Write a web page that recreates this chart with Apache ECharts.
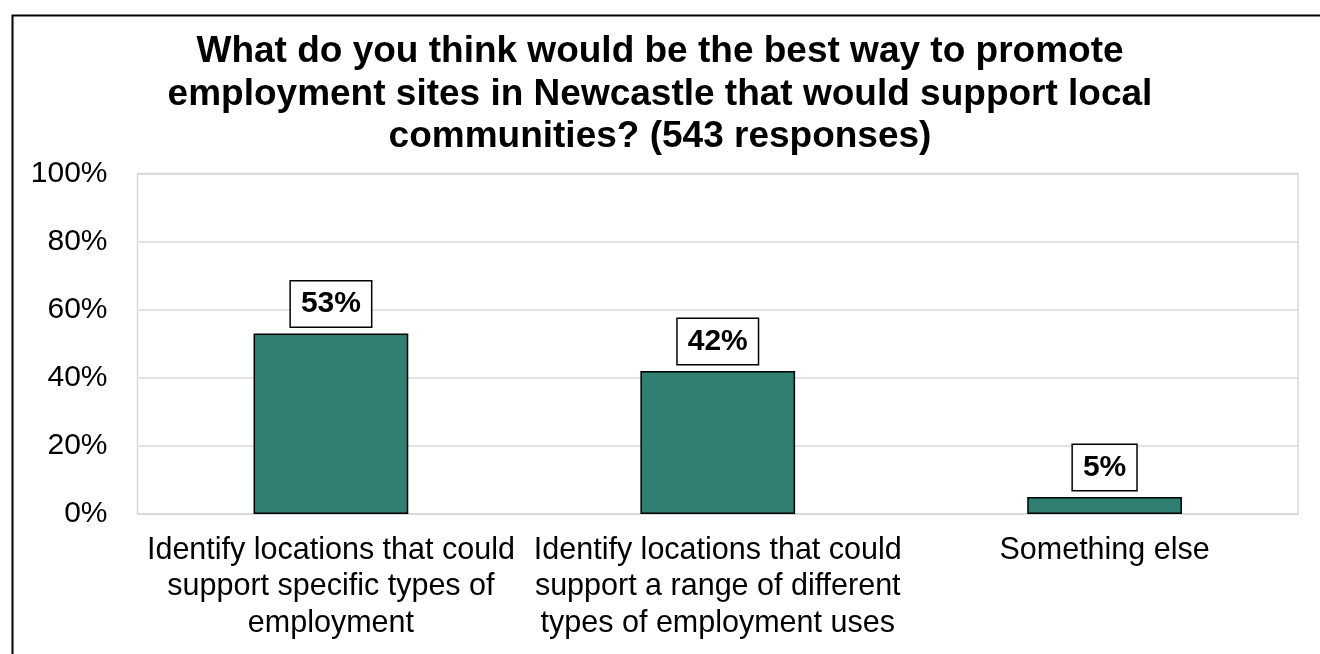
<!DOCTYPE html>
<html>
<head>
<meta charset="utf-8">
<title>Promoting employment sites in Newcastle</title>
<script src="https://cdn.jsdelivr.net/npm/echarts@6/dist/echarts.min.js"></script>
<style>
  html, body { margin: 0; padding: 0; background: #ffffff; }
  #chart { width: 1320px; height: 654px; }
</style>
</head>
<body>
<div id="chart"></div>
<script>
// Survey answers (share of 543 responses)
const categories = [
  'Identify locations that could\nsupport specific types of\nemployment',
  'Identify locations that could\nsupport a range of different\ntypes of employment uses',
  'Something else'
];
const shares = [0.53, 0.42, 0.05];
const yTicks = [0, 0.2, 0.4, 0.6, 0.8, 1.0];

const titleText = 'What do you think would be the best way to promote\nemployment sites in Newcastle that would support local\ncommunities? (543 responses)';

const FONT = '"Liberation Sans", Arial, Helvetica, sans-serif';
const chart = echarts.init(document.getElementById('chart'), null, { renderer: 'canvas' });

chart.setOption({
  animation: false,
  backgroundColor: '#ffffff',
  textStyle: { fontFamily: FONT },
  title: {
    text: titleText,
    left: 'center',
    top: 31,
    padding: 0,
    textStyle: {
      fontFamily: FONT,
      fontSize: 37,
      fontWeight: 'bold',
      color: '#000000',
      lineHeight: 42.5
    }
  },
  // frame around the whole chart
  graphic: [{
    type: 'rect',
    left: 10,
    top: 13,
    shape: { width: 1340, height: 700 },
    style: { fill: 'none', stroke: '#000000', lineWidth: 2 },
    silent: true,
    z: 100
  }],
  grid: {
    left: 137.5,
    right: 22,
    top: 173.5,
    bottom: 140,
    show: true,
    borderColor: '#d9d9d9',
    borderWidth: 1.5,
    containLabel: false
  },
  xAxis: {
    type: 'category',
    data: categories,
    axisTick: { show: false },
    axisLine: { show: true, lineStyle: { color: '#d9d9d9', width: 1.5 } },
    axisLabel: {
      interval: 0,
      margin: 18,
      fontFamily: FONT,
      fontSize: 30.5,
      lineHeight: 36.5,
      color: '#000000',
      align: 'center'
    }
  },
  yAxis: {
    type: 'value',
    min: yTicks[0],
    max: yTicks[yTicks.length - 1],
    interval: yTicks[1] - yTicks[0],
    axisLine: { show: false },
    axisTick: { show: false },
    splitLine: { show: true, lineStyle: { color: '#d9d9d9', width: 1.5 } },
    axisLabel: {
      margin: 30,
      fontFamily: FONT,
      fontSize: 30,
      color: '#000000',
      formatter: v => Math.round(v * 100) + '%'
    }
  },
  series: [{
    type: 'bar',
    data: shares,
    barWidth: '40%',
    itemStyle: {
      color: '#2f7f73',
      borderColor: '#000000',
      borderWidth: 1.5
    },
    label: {
      show: true,
      position: 'top',
      distance: 7,
      fontFamily: FONT,
      fontSize: 30,
      fontWeight: 'bold',
      color: '#000000',
      lineHeight: 31,
      backgroundColor: '#ffffff',
      borderColor: '#000000',
      borderWidth: 1.5,
      padding: [7, 10, 7, 10],
      formatter: p => Math.round(p.value * 100) + '%'
    }
  }]
});
</script>
</body>
</html>
